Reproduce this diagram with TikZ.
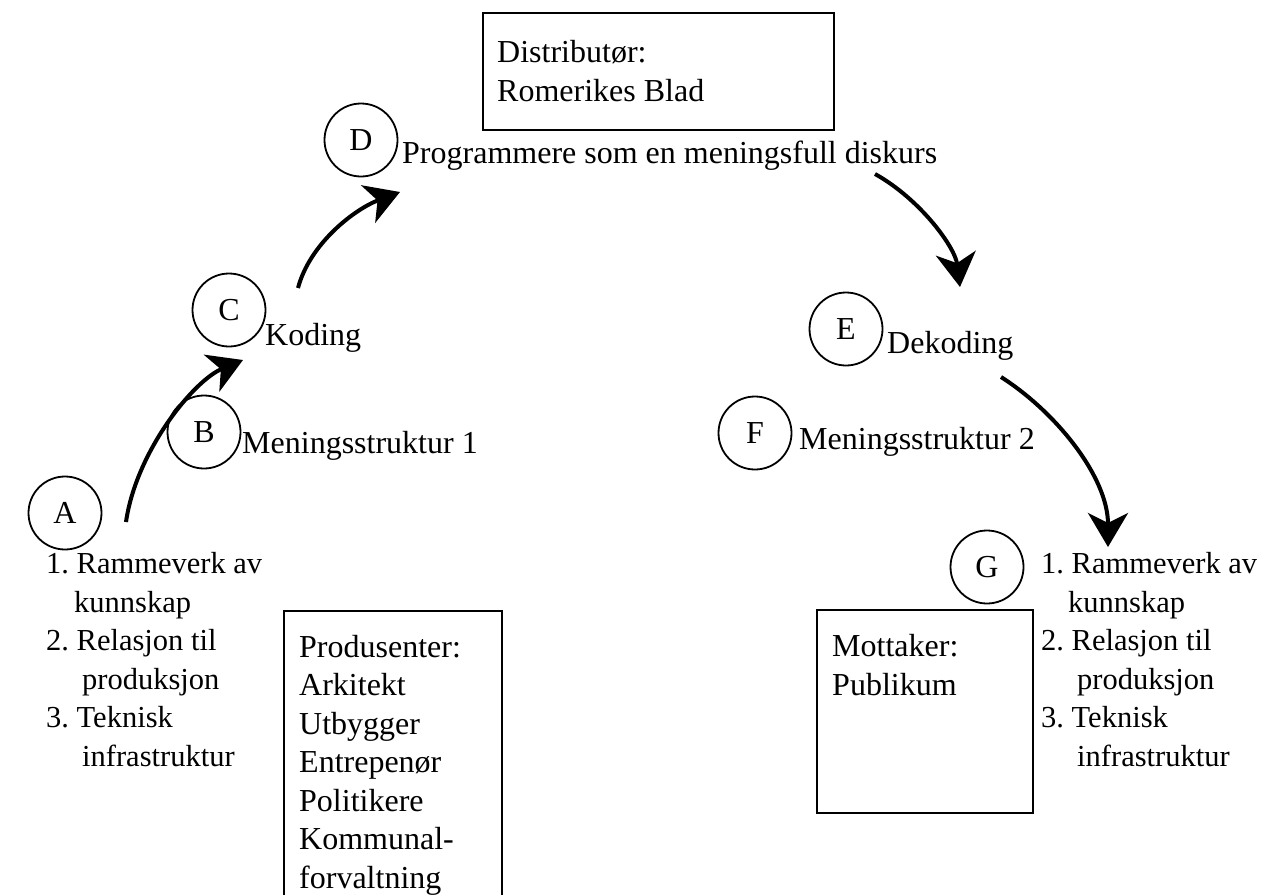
\documentclass[tikz,border=0pt]{standalone}
\usepackage{fontspec}
\setmainfont{Liberation Serif}
\usetikzlibrary{arrows.meta}
\frenchspacing

\tikzset{
  letter/.style={draw, circle, line width=1.8pt, minimum size=73pt, inner sep=0pt,
    font=\fontsize{32}{34}\selectfont},
  txt/.style={anchor=base west, inner sep=0pt, align=left,
    font=\fontsize{32}{38.5}\selectfont},
  listtxt/.style={txt, font=\fontsize{30.5}{38.5}\selectfont},
  box/.style={draw, line width=2.4pt, anchor=north west, inner sep=0pt},
  flow/.style={line width=4pt, -{Stealth[length=34pt, width=40pt, inset=10pt]}}
}

\begin{document}
\begin{tikzpicture}[x=1pt, y=-1pt]
  \useasboundingbox (0,0) rectangle (1265,894);
  \clip (0,0) rectangle (1265,894);

  % boxes (text nodes sit on the baseline of their last line)
  \node[box, minimum width=351pt, minimum height=117pt] (dist) at (482,12) {};
  \node[txt] (disttxt) at (497,101) {Distributør:\\Romerikes Blad};
  \node[box, minimum width=218pt, minimum height=300pt] (prod) at (283,610) {};
  \node[txt] (prodtxt) at (299,888) {Produsenter:\\Arkitekt\\Utbygger\\Entrepenør\\Politikere\\Kommunal-\\forvaltning};
  \node[box, minimum width=216pt, minimum height=203pt] (mott) at (816,609) {};
  \node[txt] (motttxt) at (832,695) {Mottaker:\\Publikum};

  % circles
  \node[letter] (A) at (65,513) {A};
  \node[letter] (B) at (204,432) {B};
  \node[letter] (C) at (229,310) {C};
  \node[letter] (D) at (361,140) {D};
  \node[letter] (E) at (846,329) {E};
  \node[letter] (F) at (755,433) {F};
  \node[letter] (G) at (987,567) {G};

  % labels
  \node[txt] (koding) at (265,345) {Koding};
  \node[txt] (mening1) at (242,453) {Meningsstruktur 1};
  \node[txt] (program) at (402,163) {Programmere som en meningsfull diskurs};
  \node[txt] (dekoding) at (887,353) {Dekoding};
  \node[txt] (mening2) at (799,449) {Meningsstruktur 2};

  % lists
  \node[listtxt] (listA) at (46,766) {1. Rammeverk av\\\hspace*{28pt}kunnskap\\2. Relasjon til\\\hspace*{36pt}produksjon\\3. Teknisk\\\hspace*{36pt}infrastruktur};
  \node[listtxt] (listG) at (1041,766) {1. Rammeverk av\\\hspace*{27pt}kunnskap\\2. Relasjon til\\\hspace*{36pt}produksjon\\3. Teknisk\\\hspace*{36pt}infrastruktur};

  % arrows
  \coordinate (ac0) at (126,522);
  \coordinate (ac1) at (243,360);
  \coordinate (cd0) at (298,288);
  \coordinate (cd1) at (400,192);
  \coordinate (de0) at (875,174);
  \coordinate (de1) at (960,287);
  \coordinate (eg0) at (1001,377);
  \coordinate (eg1) at (1108,547);
  \draw[flow] (ac0) .. controls +(10,-70) and +(-50,21) .. (ac1);
  \draw[flow] (cd0) .. controls +(12,-45) and +(-45,17) .. (cd1);
  \draw[flow] (de0) .. controls +(45,25) and +(-5,-40) .. (de1);
  \draw[flow] (eg0) .. controls +(55,35) and +(0,-70) .. (eg1);
\end{tikzpicture}
\end{document}
